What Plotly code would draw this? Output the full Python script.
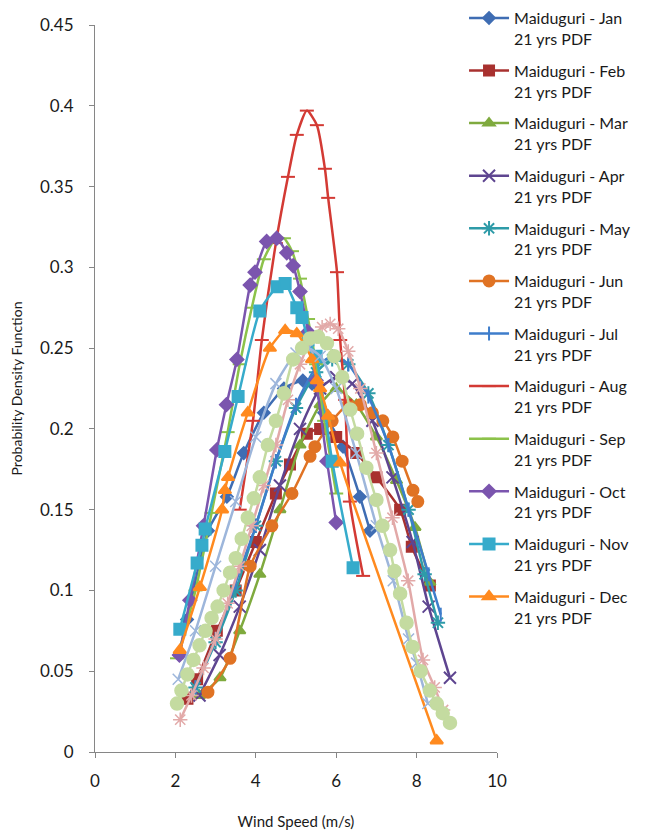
import plotly.graph_objects as go

# ---- data ----
jan_x = [2.1, 2.29, 2.81, 3.28, 3.7, 4.2, 4.7, 5.17, 5.4, 5.7, 6.17, 6.59, 6.84]
jan_y = [0.06, 0.082, 0.137, 0.158, 0.185, 0.21, 0.225, 0.23, 0.228, 0.21, 0.189, 0.158, 0.137]

feb_x = [2.3, 2.54, 3.03, 3.5, 4.0, 4.5, 4.85, 5.27, 5.6, 6.0, 6.5, 7.0, 7.59, 7.88, 8.33]
feb_y = [0.033, 0.045, 0.075, 0.1, 0.13, 0.16, 0.178, 0.197, 0.2, 0.195, 0.185, 0.17, 0.15, 0.127, 0.103]

mar_x = [2.6, 3.11, 3.6, 4.1, 4.6, 5.1, 5.6, 6.0, 6.5, 7.0, 7.5, 7.96, 8.33]
mar_y = [0.035, 0.046, 0.075, 0.11, 0.15, 0.19, 0.215, 0.225, 0.215, 0.195, 0.168, 0.139, 0.105]

apr_x = [2.6, 3.1, 3.6, 4.1, 4.6, 5.1, 5.6, 6.0, 6.4, 6.9, 7.4, 7.9, 8.3, 8.83]
apr_y = [0.035, 0.06, 0.09, 0.125, 0.165, 0.2, 0.225, 0.232, 0.228, 0.205, 0.17, 0.13, 0.09, 0.046]

may_x = [2.5, 3.0, 3.5, 4.0, 4.5, 5.0, 5.5, 5.9, 6.3, 6.8, 7.3, 7.8, 8.2, 8.53]
may_y = [0.04, 0.068, 0.1, 0.14, 0.18, 0.213, 0.235, 0.243, 0.24, 0.222, 0.19, 0.15, 0.11, 0.08]

jun_x = [2.81, 3.36, 3.86, 4.4, 4.9, 5.35, 5.47, 5.9, 6.3, 6.6, 6.9, 7.16, 7.41, 7.64, 7.91, 8.03]
jun_y = [0.037, 0.058, 0.115, 0.14, 0.16, 0.183, 0.189, 0.205, 0.215, 0.215, 0.21, 0.205, 0.195, 0.18, 0.162, 0.155]

jul_x = [2.5, 3.0, 3.5, 4.0, 4.5, 5.0, 5.5, 5.9, 6.3, 6.8, 7.3, 7.8, 8.3, 8.6]
jul_y = [0.04, 0.07, 0.105, 0.14, 0.18, 0.215, 0.238, 0.245, 0.24, 0.22, 0.19, 0.15, 0.11, 0.085]

aug_x = [3.6, 3.93, 4.15, 4.5, 4.8, 5.02, 5.27, 5.52, 5.72, 5.8, 6.02, 6.1, 6.22, 6.34, 6.67]
aug_y = [0.15, 0.205, 0.255, 0.315, 0.356, 0.382, 0.397, 0.388, 0.361, 0.343, 0.297, 0.255, 0.218, 0.155, 0.109]

sep_x = [2.04, 2.5, 2.9, 3.3, 3.6, 3.9, 4.2, 4.5, 4.7, 4.9, 5.1, 5.3, 5.5, 5.7, 6.0]
sep_y = [0.058, 0.1, 0.148, 0.198, 0.24, 0.275, 0.305, 0.318, 0.318, 0.31, 0.293, 0.268, 0.24, 0.205, 0.16]

oct_x = [2.1, 2.36, 2.7, 3.03, 3.27, 3.53, 3.86, 3.98, 4.27, 4.52, 4.77, 4.93, 5.1, 5.3, 5.5, 5.77, 6.0]
oct_y = [0.06, 0.094, 0.14, 0.187, 0.215, 0.243, 0.289, 0.297, 0.316, 0.318, 0.309, 0.301, 0.285, 0.26, 0.23, 0.18, 0.142]

nov_x = [2.11, 2.54, 2.66, 2.74, 3.23, 3.56, 4.1, 4.53, 4.73, 5.02, 5.15, 5.3, 5.5, 5.9, 6.42]
nov_y = [0.076, 0.117, 0.128, 0.138, 0.186, 0.22, 0.273, 0.288, 0.29, 0.275, 0.269, 0.255, 0.245, 0.18, 0.114]

dec_x = [2.11, 2.61, 3.16, 3.23, 3.31, 3.8, 4.35, 4.73, 5.02, 5.4, 5.52, 5.6, 5.8, 6.1, 8.5]
dec_y = [0.063, 0.102, 0.15, 0.162, 0.17, 0.21, 0.25, 0.261, 0.259, 0.243, 0.23, 0.225, 0.208, 0.179, 0.007]

# extra (un-labelled) series visible in the plot
lblue_x = [2.07, 2.5, 3.0, 3.5, 4.0, 4.5, 5.0, 5.3, 5.6, 6.0, 6.5, 7.0, 7.42, 7.8, 8.0, 8.28]
lblue_y = [0.045, 0.075, 0.115, 0.155, 0.195, 0.228, 0.247, 0.25, 0.245, 0.225, 0.185, 0.14, 0.106, 0.07, 0.055, 0.03]

pink_x = [2.12, 2.4, 2.7, 3.0, 3.3, 3.6, 3.9, 4.2, 4.5, 4.8, 5.1, 5.4, 5.65, 5.85, 6.05, 6.3, 6.6, 7.0, 7.4, 7.79, 8.16, 8.45, 8.66]
pink_y = [0.02, 0.035, 0.052, 0.07, 0.092, 0.115, 0.14, 0.165, 0.19, 0.218, 0.24, 0.256, 0.263, 0.265, 0.262, 0.248, 0.225, 0.185, 0.145, 0.106, 0.057, 0.04, 0.026]

lgreen_x = [2.04, 2.15, 2.3, 2.45, 2.6, 2.75, 2.9, 3.05, 3.2, 3.36, 3.5, 3.65, 3.8, 3.95, 4.1, 4.3,
            4.5, 4.7, 4.93, 5.15, 5.35, 5.55, 5.77, 5.95, 6.15, 6.35, 6.52, 6.75, 7.0, 7.15, 7.34,
            7.45, 7.59, 7.75, 7.9, 8.1, 8.33, 8.5, 8.65, 8.83]
lgreen_y = [0.03, 0.038, 0.048, 0.057, 0.066, 0.075, 0.083, 0.09, 0.1, 0.111, 0.12, 0.132, 0.145, 0.157, 0.17, 0.19,
            0.205, 0.222, 0.243, 0.25, 0.256, 0.257, 0.253, 0.245, 0.232, 0.212, 0.197, 0.176, 0.156, 0.14, 0.125,
            0.112, 0.098, 0.08, 0.065, 0.05, 0.038, 0.03, 0.024, 0.018]

months = ["Jan", "Feb", "Mar", "Apr", "May", "Jun", "Jul", "Aug", "Sep", "Oct", "Nov", "Dec"]
xs = [jan_x, feb_x, mar_x, apr_x, may_x, jun_x, jul_x, aug_x, sep_x, oct_x, nov_x, dec_x]
ys = [jan_y, feb_y, mar_y, apr_y, may_y, jun_y, jul_y, aug_y, sep_y, oct_y, nov_y, dec_y]

colors = ["#3F6DB3", "#A8312F", "#7FAA3E", "#5E4590", "#2E9BA8", "#E07324",
          "#3E7DCB", "#D33A34", "#8CC24A", "#7B55AE", "#36ABCB", "#FF8A1F"]
symbols = ["diamond", "square", "triangle-up", "x-thin-open", "asterisk-open", "circle",
           "line-ns-open", "line-ew-open", "line-ew-open", "diamond", "square", "triangle-up"]
msizes = [9, 10, 10, 12, 12, 11, 10, 10, 10, 10, 11, 11]

FONT = "Lato, 'Open Sans', sans-serif"

fig = go.Figure()
for m, x, y, c, s, ms in zip(months, xs, ys, colors, symbols, msizes):
    fig.add_trace(go.Scatter(
        x=x, y=y, mode="lines+markers", name=f"Maiduguri - {m}<br>21 yrs PDF",
        legendgroup=m,
        line=dict(color=c, width=2.5, shape="spline", smoothing=0.6),
        marker=dict(symbol=s, size=ms, color=c, line=dict(color=c, width=2)),
    ))

extras = [
    (lblue_x, lblue_y, "#9DB6DB", "x-thin-open", 11),
    (pink_x, pink_y, "#E2A9A8", "asterisk-open", 12),
    (lgreen_x, lgreen_y, "#C4DBA0", "circle", 13),
]
for x, y, c, s, ms in extras:
    fig.add_trace(go.Scatter(
        x=x, y=y, mode="lines+markers", showlegend=False,
        line=dict(color=c, width=2.5, shape="spline", smoothing=0.6),
        marker=dict(symbol=s, size=ms, color=c, line=dict(color=c, width=1.5)),
    ))

axis_common = dict(
    showline=True, linecolor="#868686", linewidth=1,
    ticks="outside", ticklen=5, tickcolor="#868686",
    showgrid=False, zeroline=False, automargin=False,
    tickfont=dict(family=FONT, size=17, color="#1a1a1a"),
)

fig.update_layout(
    width=654, height=832,
    margin=dict(l=95, r=157, t=25, b=80, autoexpand=False),
    paper_bgcolor="white", plot_bgcolor="white",
    font=dict(family=FONT, color="#1a1a1a"),
    xaxis=dict(range=[0, 10], tick0=0, dtick=2,
               title=dict(text="Wind Speed (m/s)", font=dict(family=FONT, size=15), standoff=26),
               ticklabelstandoff=9,
               **axis_common),
    yaxis=dict(range=[0, 0.45], tick0=0, dtick=0.05,
               title=dict(text="Probability Density Function", font=dict(family=FONT, size=14), standoff=14),
               ticklabelstandoff=12,
               **axis_common),
    legend=dict(
        x=0.918, xanchor="left", y=1.033, yanchor="top",
        bgcolor="rgba(0,0,0,0)",
        font=dict(family=FONT, size=16, color="#1a1a1a"),
        traceorder="grouped", tracegroupgap=8,
        itemwidth=40, valign="top",
        maxheight=832,
    ),
    showlegend=True,
)

fig.write_html("out.html")
